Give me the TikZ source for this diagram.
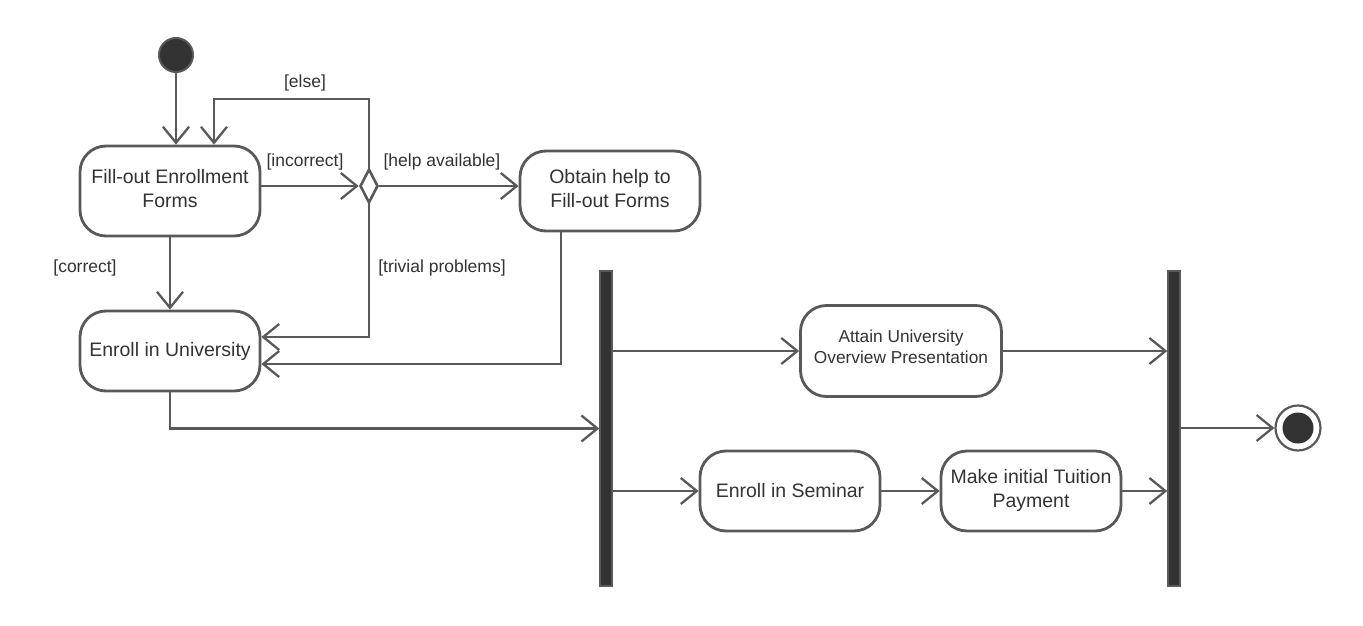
\documentclass[tikz,border=0pt]{standalone}
\usepackage{fontspec}
\setmainfont{Liberation Sans}
\usetikzlibrary{arrows.meta,shapes.geometric,calc}
\definecolor{ln}{HTML}{595959}
\definecolor{tx}{HTML}{333333}
\definecolor{dk}{HTML}{333333}
\tikzset{
  act/.style={draw=ln,line width=2.8pt,rounded corners=26pt,minimum width=180pt,minimum height=80pt,inner sep=0pt,align=center,text=tx,font=\fontsize{19.5}{24}\selectfont},
  lbl/.style={text=tx,font=\fontsize{17.5}{21}\selectfont,inner sep=0pt},
  bar/.style={draw=ln,fill=dk,line width=1.5pt,minimum width=12pt,minimum height=315pt,inner sep=0pt},
  flow/.style={draw=ln,line width=2.3pt,-{Straight Barb[length=16pt,width=26pt]}},
  plain/.style={draw=ln,line width=2.3pt}
}
\begin{document}
\begin{tikzpicture}[x=1pt,y=-1pt]
\useasboundingbox[fill=white] (0,0) rectangle (1363,626);
\node[circle,fill=dk,draw=ln,line width=2pt,minimum size=34pt,inner sep=0pt] (start) at (176,55) {};
\node[act,minimum height=90pt,text depth=6pt] (fill) at (170,191) {Fill-out Enrollment\\Forms};
\node[diamond,draw=ln,line width=2.6pt,fill=white,minimum width=18pt,minimum height=34pt,inner sep=0pt] (dia) at (369,186) {};
\node[act,text depth=6pt] (obt) at (610,191) {Obtain help to\\Fill-out Forms};
\node[act] (enr) at (170,351) {Enroll in University};
\node[bar] (bar1) at (606,428.5) {};
\node[bar] (bar2) at (1174,428.5) {};
\node[act,minimum width=201pt,minimum height=91pt,text depth=8pt,font=\fontsize{17.3}{21}\selectfont] (att) at (901,351) {Attain University\\Overview Presentation};
\node[act] (sem) at (790,491) {Enroll in Seminar};
\node[act,text depth=6pt] (pay) at (1031,491) {Make initial Tuition\\Payment};
\node[circle,draw=ln,line width=2.2pt,minimum size=45pt,inner sep=0pt] (endc) at (1298,428) {};
\node[circle,fill=dk,minimum size=31pt,inner sep=0pt] (endin) at (endc) {};

\draw[flow] (start.south) -- (start.south |- fill.north);
\draw[flow] (dia.north) -- ++(0,-69) -| ([xshift=44pt]fill.north);
\draw[flow] (fill.east |- dia.west) -- (dia.west);
\draw[flow] (dia.east) -- (obt.west |- dia.east);
\draw[flow] (fill.south) -- (enr.north);
\draw[flow] (dia.south) |- ([yshift=14pt]enr.east);
\draw[flow] ([xshift=-49pt]obt.south) |- ([yshift=-13pt]enr.east);
\draw[flow] (enr.south) |- (bar1.west);
\draw[flow] (bar1.east |- att.west) -- (att.west);
\draw[flow] (bar1.east |- sem.west) -- (sem.west);
\draw[flow] (sem.east) -- (pay.west);
\draw[flow] (att.east) -- (att.east -| bar2.west);
\draw[flow] (pay.east) -- (pay.east -| bar2.west);
\draw[flow] (bar2.east |- endc.west) -- (endc.west);

\node[lbl] (l1) at (305,83) {[else]};
\node[lbl] (l2) at (305,162) {[incorrect]};
\node[lbl] (l3) at (442,162) {[help available]};
\node[lbl] (l4) at (442,268) {[trivial problems]};
\node[lbl] (l5) at (85,268) {[correct]};
\end{tikzpicture}
\end{document}
